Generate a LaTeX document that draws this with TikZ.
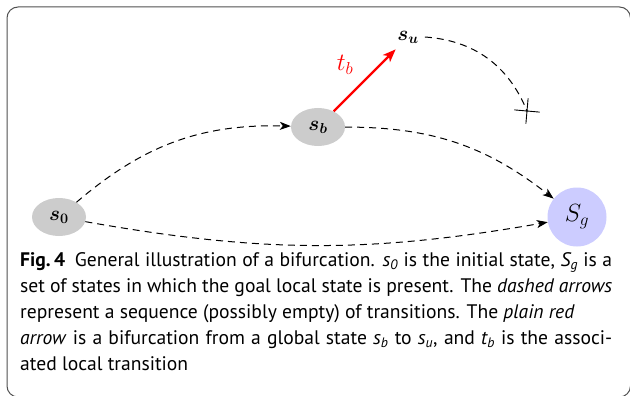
\documentclass[tikz,border=0pt]{standalone}
\usepackage{fontspec}
\setmainfont{PT Sans}
\definecolor{stateg}{HTML}{CCCCCC}
\definecolor{goalc}{HTML}{CCCCFF}
\definecolor{framec}{HTML}{505050}
\usetikzlibrary{arrows.meta,positioning,shapes.geometric,shapes.misc}

\begin{document}
\begin{tikzpicture}[x=1pt,y=-1pt,
  mathf/.style={font=\fontsize{20}{22}\selectfont\boldmath},
  state/.style={mathf,ellipse,fill=stateg,minimum width=54pt,minimum height=38pt,inner sep=0pt},
  goal/.style={mathf,circle,fill=goalc,minimum size=59pt,inner sep=0pt,font=\fontsize{24}{26}\selectfont},
  lab/.style={mathf,inner sep=6pt},
  cutmark/.style={draw,cross out,minimum size=17pt,inner sep=0pt,rotate=40,line width=0.9pt},
  seq/.style={-{Stealth[length=11pt,width=8pt,inset=3pt]},line width=1pt,dash pattern=on 7pt off 5pt},
  bif/.style={-{Stealth[length=13pt,width=10pt,inset=3.5pt]},red,line width=2.2pt},
  captext/.style={anchor=north west,inner sep=0pt,text width=592pt,align=justify,
    font=\fontsize{19.6}{26}\selectfont}]
\useasboundingbox (0,0) rectangle (630,396);
\draw[framec,line width=1pt,rounded corners=11pt] (7,7) rectangle (630.5,397);
% states
\node[state] (s0) at (59,217) {$s_0$};
\node[state] (sb) at (318,127) {$s_b$};
\node[lab] (su) at (408,37) {$s_u$};
\node[goal] (sg) at (577,217) {$S_g$};
\node[lab,red,inner sep=0pt,font=\fontsize{23}{25}\selectfont] (tb) at (345,65) {$t_b$};
\node[cutmark] (stop) at (527,111) {};
% transitions
\draw[seq] (s0) to[bend left=21] (sb);
\draw[seq] (s0) to[bend right=10] (sg);
\draw[seq] (sb) to[bend left=19] (sg);
\draw[bif] (sb) -- (su);
\draw[line width=1pt,dash pattern=on 7pt off 5pt] (su.east) to[bend left=32] (stop.center);
% caption
\node[captext] (caption) at (20,252) {\textbf{Fig.\,4}\enspace General illustration of a bifurcation. \textit{s\textsubscript{0}} is the initial state, \textit{S\textsubscript{g}} is a\linebreak
set of states in which the goal local state is present. The \textit{dashed arrows}\linebreak
represent a sequence (possibly empty) of transitions. The \textit{plain red}\\
\textit{arrow} is a bifurcation from a global state \textit{s\textsubscript{b}} to \textit{s\textsubscript{u}}, and \textit{t\textsubscript{b}} is the associ-\linebreak
ated local transition};
\end{tikzpicture}
\end{document}
